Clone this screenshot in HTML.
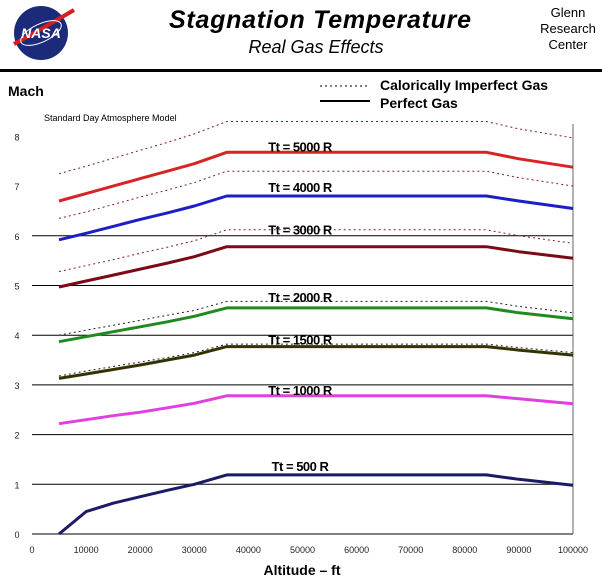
<!DOCTYPE html>
<html><head><meta charset="utf-8"><style>
html,body{margin:0;padding:0;background:#fff;}
svg{display:block;font-family:"Liberation Sans",Arial,sans-serif;}
</style></head><body>
<svg id="chart" width="602" height="585" viewBox="0 0 602 585">
  <g>
    <circle cx="41" cy="33" r="27" fill="#1c2a7a"/>
    <path d="M14 44 Q40 30 74 10" stroke="#d02020" stroke-width="4" fill="none"/>
    <ellipse cx="41" cy="33" rx="22" ry="9" fill="none" stroke="#fff" stroke-width="1" transform="rotate(-25 41 33)"/>
    <text x="41" y="38" font-size="14" font-weight="bold" font-style="italic" fill="#fff" text-anchor="middle">NASA</text>
  </g>
  <text x="320" y="28" font-size="25" font-weight="bold" font-style="italic" text-anchor="middle" textLength="302">Stagnation  Temperature</text>
  <text x="316" y="53" font-size="18" font-style="italic" text-anchor="middle">Real  Gas  Effects</text>
  <g font-size="13" text-anchor="middle">
    <text x="568" y="17">Glenn</text><text x="568" y="33">Research</text><text x="568" y="49">Center</text>
  </g>
  <rect x="0" y="69" width="602" height="3" fill="#000"/>
  <text x="8" y="96" font-size="14" font-weight="bold">Mach</text>
  <g>
    <line x1="320" y1="86" x2="370" y2="86" stroke="#000" stroke-dasharray="2,3" stroke-width="1"/>
    <text x="380" y="90" font-size="14" font-weight="bold">Calorically Imperfect  Gas</text>
    <line x1="320" y1="101" x2="370" y2="101" stroke="#000" stroke-width="2"/>
    <text x="380" y="108" font-size="14" font-weight="bold">Perfect  Gas</text>
  </g>
  <text x="44" y="121" font-size="9">Standard  Day  Atmosphere  Model</text>
  <text x="302" y="575" font-size="14" font-weight="bold" text-anchor="middle">Altitude  –  ft</text>
  <g id="grid"></g><g id="axes"></g><g id="series"></g><g id="labels"></g>
</svg>
<script>
const altitudes = [5000, 10000, 15000, 20000, 25000, 30000, 36000, 84000, 90000, 100000];
const temps = ["500", "1000", "1500", "2000", "3000", "4000", "5000"];
const perfect500  = [0, 0.45, 0.62, 0.75, 0.88, 1.0, 1.19, 1.19, 1.1, 0.98];
const perfect1000 = [2.22, 2.3, 2.38, 2.45, 2.54, 2.63, 2.78, 2.78, 2.72, 2.62];
const perfect1500 = [3.13, 3.22, 3.31, 3.4, 3.5, 3.6, 3.77, 3.77, 3.7, 3.6];
const perfect2000 = [3.87, 3.97, 4.07, 4.17, 4.27, 4.38, 4.55, 4.55, 4.45, 4.33];
const perfect3000 = [4.97, 5.09, 5.21, 5.33, 5.45, 5.58, 5.78, 5.78, 5.68, 5.55];
const perfect4000 = [5.92, 6.05, 6.19, 6.33, 6.46, 6.6, 6.8, 6.8, 6.7, 6.55];
const perfect5000 = [6.7, 6.85, 7.0, 7.15, 7.3, 7.45, 7.68, 7.68, 7.55, 7.38];
const imperfect1500 = [3.18, 3.28, 3.37, 3.46, 3.55, 3.65, 3.82, 3.82, 3.75, 3.65];
const imperfect2000 = [4.0, 4.1, 4.2, 4.3, 4.4, 4.5, 4.68, 4.68, 4.58, 4.45];
const imperfect3000 = [5.28, 5.4, 5.52, 5.65, 5.77, 5.9, 6.12, 6.12, 6.0, 5.85];
const imperfect4000 = [6.35, 6.48, 6.63, 6.78, 6.92, 7.07, 7.3, 7.3, 7.17, 7.0];
const imperfect5000 = [7.25, 7.4, 7.56, 7.72, 7.88, 8.05, 8.3, 8.3, 8.15, 7.97];
const labelMach = [1.27, 2.8, 3.81, 4.67, 6.03, 6.88, 7.7];
const xTicks = [0, 10000, 20000, 30000, 40000, 50000, 60000, 70000, 80000, 90000, 100000];
const yTicks = [0, 1, 2, 3, 4, 5, 6, 7, 8];
const gridMach = [1, 2, 3, 4, 5, 6];

const NS = "http://www.w3.org/2000/svg";
const X0 = 32, X1 = 573, Y0 = 534, YS = 49.7;
function xs(v){ return X0 + (X1 - X0) * v / 100000; }
function ys(v){ return Y0 - YS * v; }
function mk(tag, attrs, parent){ const e = document.createElementNS(NS, tag); for (const k in attrs) e.setAttribute(k, attrs[k]); parent.appendChild(e); return e; }
const grid = document.getElementById("grid"), axes = document.getElementById("axes"), series = document.getElementById("series"), labels = document.getElementById("labels");

gridMach.forEach(m => {
  const l = mk("line", {x1: X0, x2: X1, y1: ys(m), y2: ys(m), stroke: "#000", "stroke-width": 1}, grid);
  
  
});
const xa = mk("line", {x1: X0, x2: X1, y1: ys(0), y2: ys(0), stroke: "#000", "stroke-width": 1}, axes);


const ra = mk("line", {x1: X1, x2: X1, y1: 124, y2: ys(0), stroke: "#666", "stroke-width": 1}, axes);


xTicks.forEach(t => {
  const tx = mk("text", {x: xs(t), y: 553, "font-size": 9, "text-anchor": "middle", fill: "#222"}, axes);
  tx.textContent = t;
  
  
});
yTicks.forEach(t => {
  const tx = mk("text", {x: 17, y: ys(t) + 4, "font-size": 9, "text-anchor": "middle", fill: "#222"}, axes);
  tx.textContent = t;
  
  
});

const perfect = [perfect500, perfect1000, perfect1500, perfect2000, perfect3000, perfect4000, perfect5000];
const imperfect = [null, null, imperfect1500, imperfect2000, imperfect3000, imperfect4000, imperfect5000];
const colors = ["#1a1a66", "#e040e0", "#333300", "#208a20", "#7a0a18", "#1e1ec8", "#d82424"];
function pathD(vals){ return vals.map((v, i) => (i ? "L" : "M") + xs(altitudes[i]).toFixed(1) + " " + ys(v).toFixed(1)).join(" "); }
temps.forEach((t, k) => {
  if (imperfect[k]) {
    const d = mk("path", {d: pathD(imperfect[k]), fill: "none", stroke: k >= 4 ? "#7a2030" : "#222", "stroke-width": 1, "stroke-dasharray": "2,3"}, series);
    
    
  }
  const p = mk("path", {d: pathD(perfect[k]), fill: "none", stroke: colors[k], "stroke-width": 3, "stroke-linejoin": "round"}, series);
  
  
  const lb = mk("text", {x: 300, y: ys(labelMach[k]), "font-size": 13, "font-weight": "bold", "text-anchor": "middle", "letter-spacing": "-0.5"}, labels);
  lb.textContent = "Tt = " + t + " R";
  
  
});
</script>
</body></html>
